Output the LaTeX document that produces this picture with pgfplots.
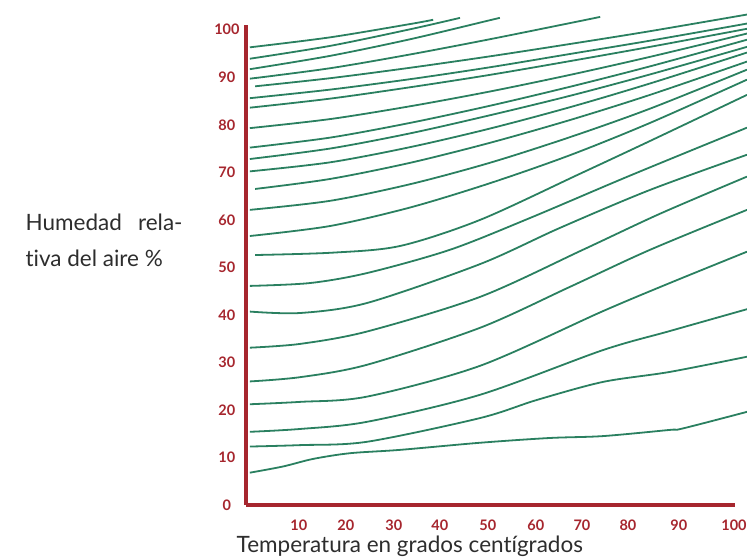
\documentclass[border=0pt]{standalone}
\usepackage{fontspec}
\setmainfont{Lato}[Ligatures={NoCommon}]
\usepackage{pgfplots}
\pgfplotsset{compat=1.18}
\definecolor{axred}{RGB}{166,38,46}
\definecolor{lgreen}{RGB}{42,128,96}
\definecolor{txt}{RGB}{45,45,45}
\pgfplotsset{gl/.style={draw=lgreen, solid, line width=1.8bp, smooth, mark=none}}
\begin{document}
\begin{tikzpicture}
\path[use as bounding box] (0,0) rectangle (747bp,560bp);
\begin{axis}[
  at={(246bp,55bp)}, anchor=south west, scale only axis,
  width=489bp, height=480bp,
  xmin=0, xmax=101.9, ymin=0, ymax=101,
  axis x line=bottom, axis y line=left,
  axis line style={draw=axred, line width=3.5bp, -},
  clip=false,
  xtick={11,20.8,30.8,40.4,50.4,60.4,70.0,79.6,90.2,101.7},
  xticklabels={10,20,30,40,50,60,70,80,90,100},
  ytick={0,10,...,100},
  tick style={draw=none},
  /pgf/number format/assume math mode=true,
  ticklabel style={font=\fontsize{14.5bp}{16bp}\selectfont\bfseries, text=axred},
  xticklabel style={anchor=center, yshift=-18bp},
  yticklabel style={anchor=center, xshift=-17bp},
  xlabel={Temperatura en grados centígrados},
  every axis x label/.style={at={(axis description cs:0.335,-0.086)}, anchor=center, font=\fontsize{22.5bp}{25bp}\selectfont, text=txt},
]
% curves 1-4 (top, ending early)
\addplot[gl] coordinates {(0.8,96.3) (17.5,98.4) (34.2,101.2) (39.0,102.1)};
\addplot[gl] coordinates {(0.8,93.9) (17.5,96.6) (34.2,100.1) (44.6,102.5)};
\addplot[gl] coordinates {(0.8,91.7) (17.5,94.5) (34.2,98.0) (50.8,102.0) (52.9,102.5)};
\addplot[gl] coordinates {(0.8,89.7) (17.5,91.9) (34.2,94.8) (50.8,98.0) (67.5,101.4) (73.8,102.7)};
% curves 5-14
\addplot[gl] coordinates {(1.9,88.1) (17.5,89.8) (34.2,92.0) (50.8,94.4) (67.5,97.0) (84.2,99.7) (104.4,103.2)};
\addplot[gl] coordinates {(0.8,85.6) (17.5,87.4) (34.2,89.6) (50.8,92.1) (67.5,94.9) (84.2,97.7) (104.4,101.3)};
\addplot[gl] coordinates {(0.8,83.6) (17.5,85.5) (34.2,87.9) (50.8,90.5) (67.5,93.4) (84.2,96.4) (104.4,100.2)};
\addplot[gl] coordinates {(0.8,79.3) (17.5,81.2) (34.2,83.9) (50.8,87.0) (67.5,90.5) (84.2,94.3) (104.4,99.2)};
\addplot[gl] coordinates {(0.8,75.2) (17.5,77.3) (34.2,80.4) (50.8,84.0) (67.5,88.0) (84.2,92.3) (104.4,97.9)};
\addplot[gl] coordinates {(0.8,72.8) (17.5,75.0) (34.2,78.2) (50.8,82.0) (67.5,86.1) (84.2,90.6) (104.4,96.4)};
\addplot[gl] coordinates {(0.8,70.2) (17.5,72.1) (34.2,75.3) (50.8,79.2) (67.5,83.7) (84.2,88.7) (104.4,95.2)};
\addplot[gl] coordinates {(1.9,66.5) (17.5,68.6) (34.2,72.0) (50.8,76.2) (67.5,81.0) (84.2,86.3) (104.4,93.3)};
\addplot[gl] coordinates {(0.8,62.1) (17.5,64.0) (34.2,67.5) (50.8,72.0) (67.5,77.4) (84.2,83.4) (104.4,91.6)};
\addplot[gl] coordinates {(0.8,56.6) (17.5,58.7) (34.2,62.6) (50.8,67.7) (67.5,73.6) (84.2,80.4) (104.4,89.5)};
% curves 15-23
\addplot[gl] coordinates {(1.9,52.6) (18.1,53.1) (32.1,54.5) (48.8,60.0) (69.6,69.7) (84.2,76.6) (104.4,86.3)};
\addplot[gl] coordinates {(0.8,46.1) (13.3,46.7) (25.2,48.8) (42.5,53.7) (59.2,60.4) (80.0,69.3) (104.4,79.4)};
\addplot[gl] coordinates {(0.8,40.7) (11.3,40.4) (25.2,42.5) (48.8,50.7) (65.4,58.3) (84.2,66.3) (104.4,73.7)};
\addplot[gl] coordinates {(0.8,33.1) (11.3,33.9) (25.2,36.5) (48.8,43.8) (70.2,53.7) (86.3,61.3) (104.4,69.1)};
\addplot[gl] coordinates {(0.8,26.0) (11.3,26.9) (25.2,29.5) (48.8,37.3) (67.5,45.9) (84.2,53.7) (104.4,62.1)};
\addplot[gl] coordinates {(0.8,21.2) (11.3,21.7) (25.2,22.8) (48.8,29.3) (74.4,40.8) (88.3,46.7) (104.4,53.3)};
\addplot[gl] coordinates {(0.8,15.4) (11.3,16.0) (25.2,17.5) (48.8,23.2) (74.4,32.6) (88.3,36.6) (104.4,41.2)};
\addplot[gl] coordinates {(0.8,12.3) (11.3,12.6) (25.2,13.3) (48.8,18.3) (60.6,22.1) (74.4,25.9) (88.3,28.0) (104.4,31.2)};
\addplot[gl] coordinates {(0.8,6.8) (7.7,8.1) (14.0,9.7) (21.7,10.9) (32.1,11.6) (48.8,13.1) (63.3,14.1) (74.4,14.5) (88.3,15.8) (91.0,16.1) (104.4,19.6)};
\node[anchor=west, align=left, text=txt, font=\fontsize{22.5bp}{36bp}\selectfont] at (axis description cs:-0.458,0.552) {Humedad\hspace{0.72em}rela-\\tiva del aire \%};
\end{axis}
\end{tikzpicture}
\end{document}
